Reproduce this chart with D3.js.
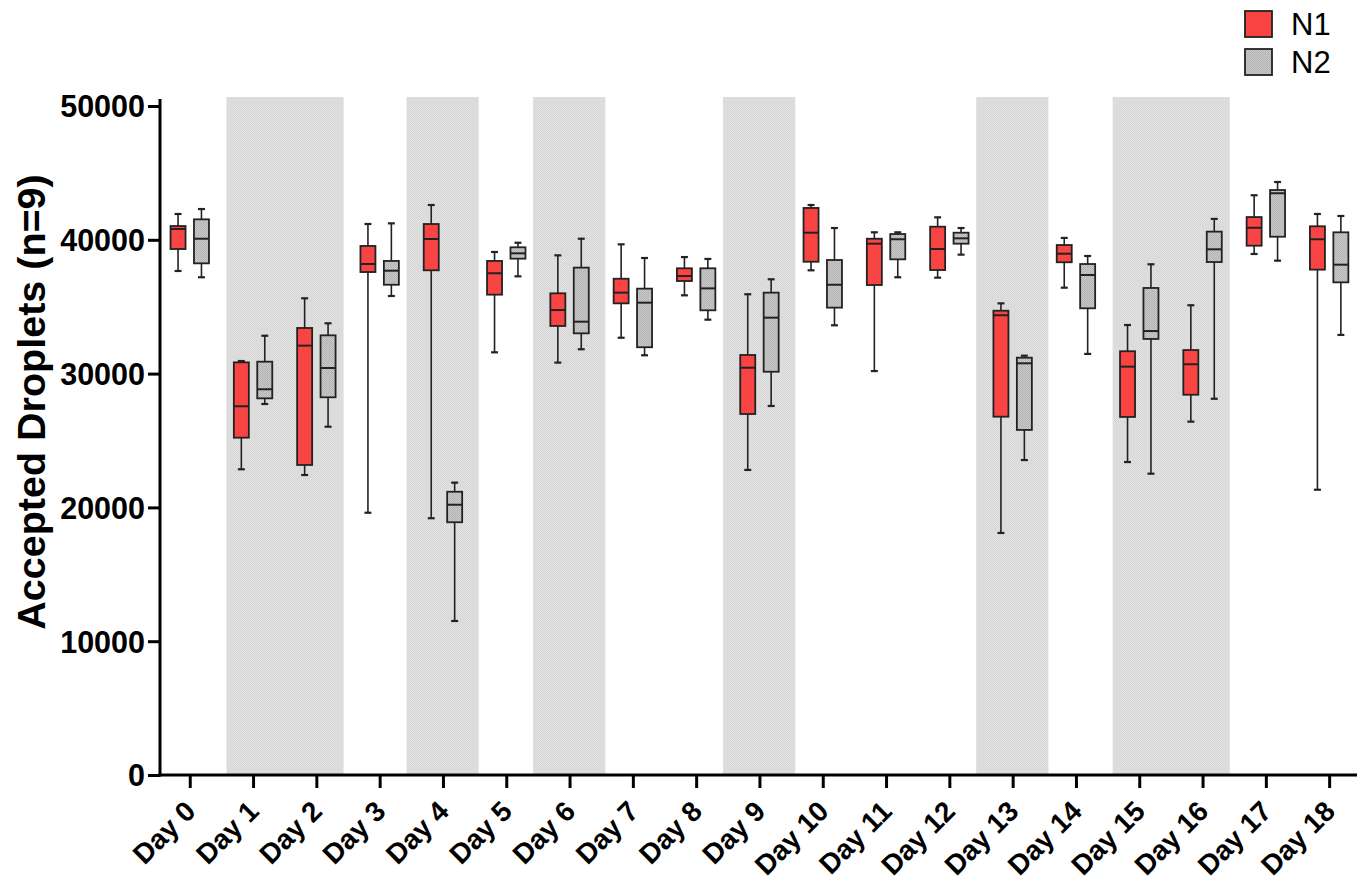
<!DOCTYPE html>
<html>
<head>
<meta charset="utf-8">
<script src="https://cdn.jsdelivr.net/npm/d3@7"></script>
<style>
  html, body { margin: 0; padding: 0; background: #fff; }
  svg { display: block; font-family: "Liberation Sans", Arial, Helvetica, sans-serif; }
</style>
</head>
<body>
<svg id="chart" width="1364" height="882"></svg>
<script>
// Day labels along the x axis
const days = ["Day 0","Day 1","Day 2","Day 3","Day 4","Day 5","Day 6","Day 7","Day 8","Day 9",
              "Day 10","Day 11","Day 12","Day 13","Day 14","Day 15","Day 16","Day 17","Day 18"];

// Box statistics per day: [min, Q1, median, Q3, max]
const n1Stats = [
  [37670, 39310, 40810, 41030, 41930],
  [22850, 25210, 27560, 30840, 30940],
  [22420, 23170, 32090, 33410, 35630],
  [19600, 37590, 38190, 39540, 41180],
  [19190, 37720, 40060, 41180, 42600],
  [31590, 35900, 37500, 38420, 39090],
  [30820, 33560, 34750, 36000, 38840],
  [32680, 35250, 36050, 37090, 39660],
  [35850, 36920, 37290, 37870, 38710],
  [22800, 26980, 30440, 31390, 35930],
  [37720, 38360, 40530, 42380, 42600],
  [30190, 36620, 39710, 40080, 40560],
  [37170, 37740, 39310, 40980, 41680],
  [18090, 26780, 34360, 34700, 35250],
  [36420, 38320, 38960, 39610, 40140],
  [23390, 26760, 30520, 31670, 33630],
  [26410, 28420, 30700, 31760, 35110],
  [38940, 39560, 40900, 41700, 43330],
  [21320, 37770, 40040, 41010, 41930]
];

const n2Stats = [
  [37200, 38240, 40080, 41530, 42300],
  [27730, 28150, 28830, 30890, 32830],
  [26030, 28230, 30420, 32860, 33760],
  [35800, 36640, 37690, 38420, 41230],
  [11510, 18890, 20200, 21170, 21850],
  [37270, 38590, 38990, 39440, 39780],
  [31820, 33010, 33880, 37920, 40080],
  [31370, 31970, 35300, 36350, 38640],
  [34030, 34730, 36370, 37870, 38570],
  [27580, 30140, 34180, 36050, 37050],
  [33610, 34930, 36640, 38490, 40880],
  [37200, 38540, 40040, 40430, 40560],
  [38890, 39710, 40110, 40530, 40880],
  [23540, 25790, 30770, 31190, 31340],
  [31470, 34880, 37370, 38190, 38790],
  [22520, 32590, 33180, 36400, 38170],
  [28120, 38340, 39290, 40610, 41560],
  [38440, 40230, 43480, 43720, 44320],
  [32890, 36820, 38140, 40560, 41780]
];

// Groups of consecutive days highlighted with a grey band (day indices)
const shadedGroups = [[1, 2], [4], [6], [9], [13], [15, 16]];

const yTicks = [0, 10000, 20000, 30000, 40000, 50000];
const seriesNames = ["N1", "N2"];
const yTitle = "Accepted Droplets (n=9)";

// ---------------------------------------------------------------
const svg = d3.select("#chart");
const defs = svg.append("defs");

// Stippled fills
function stipple(id, a, b) {
  const p = defs.append("pattern").attr("id", id)
    .attr("width", 2).attr("height", 2).attr("patternUnits", "userSpaceOnUse");
  p.append("rect").attr("width", 2).attr("height", 2).attr("fill", a);
  p.append("rect").attr("width", 1).attr("height", 1).attr("fill", b);
  p.append("rect").attr("x", 1).attr("y", 1).attr("width", 1).attr("height", 1).attr("fill", b);
}
stipple("shadeFill", "#e2e2e2", "#d6d6d6");
stipple("greyFill", "#c8c8c8", "#b4b4b4");

const plotLeft = 160, plotRight = 1357, plotTop = 106, plotBottom = 775;

const x = d3.scaleLinear().domain([-0.47, 18.44]).range([plotLeft, plotRight]);
const y = d3.scaleLinear().domain([0, 50000]).range([plotBottom, plotTop]);

const unit = x(1) - x(0);
const boxW = 0.237;       // box width, in day units
const offset = 0.185;     // half distance between the paired boxes
const capW = 0.11;        // whisker cap width

// Background bands
const bandStart = g => g[0] - (g.length > 1 ? 0.42 : 0.575);
const bandEnd = g => g[g.length - 1] + (g.length > 1 ? 0.43 : 0.565);
svg.append("g").selectAll("rect")
  .data(shadedGroups)
  .join("rect")
  .attr("x", g => x(bandStart(g)))
  .attr("width", g => x(bandEnd(g)) - x(bandStart(g)))
  .attr("y", y(50000) - 9)
  .attr("height", plotBottom - y(50000) + 9)
  .attr("fill", "url(#shadeFill)");

// Box plots
const series = [
  { name: "N1", stats: n1Stats, dx: -offset, fill: "#f94444" },
  { name: "N2", stats: n2Stats, dx: offset, fill: "url(#greyFill)" }
];

const boxes = svg.append("g");
series.forEach(s => {
  const g = boxes.append("g").attr("class", "series-" + s.name);
  const items = s.stats.map((d, i) => ({ i, min: d[0], q1: d[1], med: d[2], q3: d[3], max: d[4] }));
  const grp = g.selectAll("g").data(items).join("g");
  const cx = d => x(d.i + s.dx);

  grp.append("line")
    .attr("x1", cx).attr("x2", cx)
    .attr("y1", d => y(d.max)).attr("y2", d => y(d.min))
    .attr("stroke", "#222").attr("stroke-width", 1.6);
  ["max", "min"].forEach(k => {
    grp.append("line")
      .attr("x1", d => x(d.i + s.dx - capW / 2)).attr("x2", d => x(d.i + s.dx + capW / 2))
      .attr("y1", d => y(d[k])).attr("y2", d => y(d[k]))
      .attr("stroke", "#222").attr("stroke-width", 2.2);
  });
  grp.append("rect")
    .attr("x", d => x(d.i + s.dx - boxW / 2))
    .attr("width", boxW * unit)
    .attr("y", d => y(d.q3))
    .attr("height", d => y(d.q1) - y(d.q3))
    .attr("fill", s.fill)
    .attr("stroke", "#222").attr("stroke-width", 1.8);
  grp.append("line")
    .attr("x1", d => x(d.i + s.dx - boxW / 2)).attr("x2", d => x(d.i + s.dx + boxW / 2))
    .attr("y1", d => y(d.med)).attr("y2", d => y(d.med))
    .attr("stroke", "#222").attr("stroke-width", 2);
});

// Y axis
const yAxis = svg.append("g").attr("transform", `translate(${plotLeft},0)`)
  .call(d3.axisLeft(y).tickValues(yTicks).tickFormat(d3.format("d")).tickSize(12).tickPadding(3));
yAxis.select(".domain").remove();
yAxis.append("line").attr("x1", 0).attr("x2", 0)
  .attr("y1", y(50000) - 7).attr("y2", plotBottom + 1.5)
  .attr("stroke", "#000").attr("stroke-width", 3);
yAxis.selectAll(".tick line").attr("stroke", "#000").attr("stroke-width", 3);
yAxis.selectAll(".tick text")
  .attr("fill", "#000").attr("font-size", 30.5).attr("font-weight", "bold")
  .attr("font-family", "'Liberation Sans', Arial, sans-serif").attr("dy", "0.36em");

// X axis
const xAxis = svg.append("g").attr("transform", `translate(0,${plotBottom})`)
  .call(d3.axisBottom(x).tickValues(d3.range(days.length)).tickFormat(i => days[i]).tickSize(13).tickSizeOuter(0));
xAxis.select(".domain").remove();
xAxis.append("line").attr("x1", plotLeft - 1.5).attr("x2", plotRight).attr("y1", 0).attr("y2", 0)
  .attr("stroke", "#000").attr("stroke-width", 3);
xAxis.selectAll(".tick line").attr("stroke", "#000").attr("stroke-width", 3);
xAxis.selectAll(".tick text")
  .attr("fill", "#000").attr("font-size", 28).attr("font-weight", "bold")
  .attr("font-family", "'Liberation Sans', Arial, sans-serif")
  .attr("text-anchor", "end")
  .attr("x", 0).attr("y", 0).attr("dy", null)
  .attr("transform", "translate(7,38) rotate(-45)");

// Y axis title
svg.append("text")
  .attr("transform", `translate(45,402) rotate(-90)`)
  .attr("text-anchor", "middle")
  .attr("font-size", 39.5).attr("font-weight", "bold").attr("fill", "#000")
  .text(yTitle);

// Legend
const legend = svg.append("g");
series.forEach((s, i) => {
  const gy = 11 + i * 38;
  legend.append("rect").attr("x", 1245).attr("y", gy).attr("width", 27).attr("height", 26)
    .attr("fill", s.fill).attr("stroke", "#222").attr("stroke-width", 1.8);
  legend.append("text").attr("x", 1291).attr("y", gy + 24)
    .attr("font-size", 31).attr("fill", "#000").text(seriesNames[i]);
});
</script>
</body>
</html>
